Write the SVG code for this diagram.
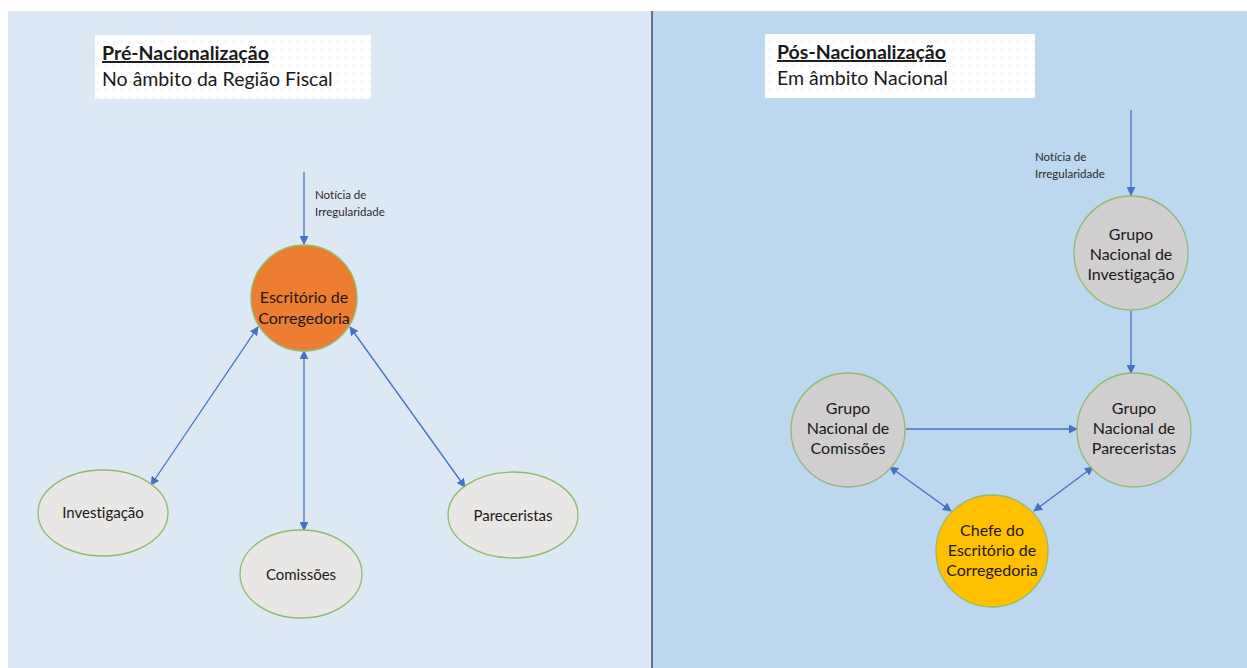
<svg xmlns="http://www.w3.org/2000/svg" width="1247" height="668" viewBox="0 0 1247 668">
<defs>
<pattern id="dots" width="8" height="8" patternUnits="userSpaceOnUse">
<rect width="8" height="8" fill="#ffffff"/>
<circle cx="2" cy="2" r="0.7" fill="#dcdcdc"/>
</pattern>
<marker id="ah" viewBox="0 0 10 10" refX="9" refY="5" markerWidth="9" markerHeight="9" markerUnits="userSpaceOnUse" orient="auto-start-reverse">
<path d="M0,0 L10,5 L0,10 z" fill="#4472c4"/>
</marker>
<style>
.t{font-family:Lato,"Open Sans","Liberation Sans",sans-serif;fill:#1a1a1a;font-variant-ligatures:none}
.h{font-size:19.5px;font-weight:bold;text-decoration:underline}
.s{font-size:19.5px}
.lbl{font-size:11.5px;fill:#2a2a2a}
.nt{font-size:16px;text-anchor:middle}
.et{font-size:15px;text-anchor:middle}
.c{stroke:#4472c4;stroke-width:1.3;fill:none}
.node{stroke:#8fbc6b;stroke-width:1.3}
</style>
</defs>
<rect x="0" y="0" width="1247" height="668" fill="#ffffff"/>
<rect x="8" y="11" width="644" height="657" fill="#dde8f5"/>
<rect x="652" y="11" width="595" height="657" fill="#bdd7ee"/>
<line x1="652" y1="11" x2="652" y2="668" stroke="#3b4f6b" stroke-width="1.5"/>

<g id="title-left">
<rect x="95" y="35" width="276" height="64" fill="url(#dots)"/>
<text class="t h" x="102" y="60">Pré-Nacionalização</text>
<text class="t s" x="102" y="86">No âmbito da Região Fiscal</text>
</g>
<g id="title-right">
<rect x="765" y="34" width="270" height="64" fill="url(#dots)"/>
<text class="t h" x="777" y="59">Pós-Nacionalização</text>
<text class="t s" x="777" y="85">Em âmbito Nacional</text>
</g>

<g id="connectors">
<line class="c" x1="304" y1="172" x2="304" y2="244" marker-end="url(#ah)"/>
<line class="c" x1="258" y1="327" x2="151" y2="485" marker-start="url(#ah)" marker-end="url(#ah)"/>
<line class="c" x1="304" y1="351" x2="304" y2="530" marker-start="url(#ah)" marker-end="url(#ah)"/>
<line class="c" x1="350" y1="327" x2="465" y2="487" marker-start="url(#ah)" marker-end="url(#ah)"/>
<line class="c" x1="1131" y1="110" x2="1131" y2="195" marker-end="url(#ah)"/>
<line class="c" x1="1131" y1="311" x2="1131" y2="373" marker-end="url(#ah)"/>
<line class="c" x1="906" y1="429" x2="1077" y2="429" marker-end="url(#ah)"/>
<line class="c" x1="890" y1="467" x2="951" y2="511" marker-start="url(#ah)" marker-end="url(#ah)"/>
<line class="c" x1="1093" y1="467" x2="1034" y2="511" marker-start="url(#ah)" marker-end="url(#ah)"/>
<text class="t lbl" x="315" y="199">Notícia de</text>
<text class="t lbl" x="315" y="216">Irregularidade</text>
<text class="t lbl" x="1035" y="161">Notícia de</text>
<text class="t lbl" x="1035" y="178">Irregularidade</text>
</g>

<g id="escritorio">
<circle class="node" cx="304" cy="298" r="53" fill="#ed7d31"/>
<text class="t nt" x="304" y="303">Escritório de</text>
<text class="t nt" x="304" y="324">Corregedoria</text>
</g>
<g id="investigacao">
<ellipse class="node" cx="103" cy="513" rx="65" ry="43" fill="#e8e7e5"/>
<text class="t et" x="103" y="518">Investigação</text>
</g>
<g id="comissoes">
<ellipse class="node" cx="301" cy="574" rx="61" ry="44" fill="#e8e7e5"/>
<text class="t et" x="301" y="580">Comissões</text>
</g>
<g id="pareceristas">
<ellipse class="node" cx="513" cy="515" rx="65" ry="43" fill="#e8e7e5"/>
<text class="t et" x="513" y="521">Pareceristas</text>
</g>

<g id="gn-investigacao">
<circle class="node" cx="1131" cy="253" r="57" fill="#d0cece"/>
<text class="t nt" x="1131" y="240">Grupo</text>
<text class="t nt" x="1131" y="260">Nacional de</text>
<text class="t nt" x="1131" y="280">Investigação</text>
</g>
<g id="gn-pareceristas">
<circle class="node" cx="1134" cy="430" r="57" fill="#d0cece"/>
<text class="t nt" x="1134" y="414">Grupo</text>
<text class="t nt" x="1134" y="434">Nacional de</text>
<text class="t nt" x="1134" y="454">Pareceristas</text>
</g>
<g id="gn-comissoes">
<circle class="node" cx="848" cy="430" r="57" fill="#d0cece"/>
<text class="t nt" x="848" y="414">Grupo</text>
<text class="t nt" x="848" y="434">Nacional de</text>
<text class="t nt" x="848" y="454">Comissões</text>
</g>
<g id="chefe">
<circle class="node" cx="992" cy="551" r="56" fill="#ffc000"/>
<text class="t nt" x="992" y="536">Chefe do</text>
<text class="t nt" x="992" y="556">Escritório de</text>
<text class="t nt" x="992" y="576">Corregedoria</text>
</g>
</svg>
